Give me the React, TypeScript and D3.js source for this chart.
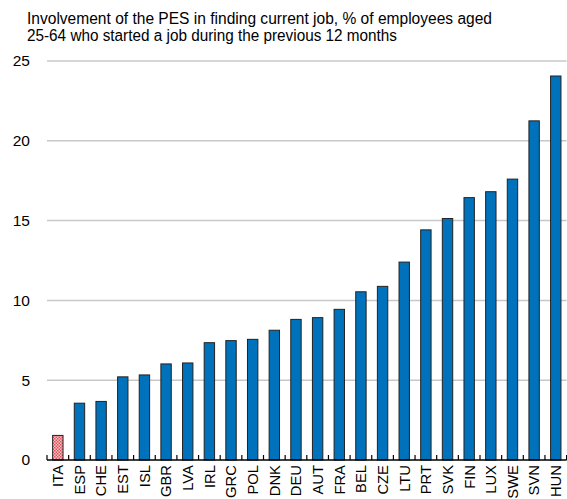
import React from "react";
import * as d3 from "d3";

const countries = ["ITA","ESP","CHE","EST","ISL","GBR","LVA","IRL","GRC","POL","DNK","DEU","AUT","FRA","BEL","CZE","LTU","PRT","SVK","FIN","LUX","SWE","SVN","HUN"];
const values = [1.54,3.56,3.67,5.21,5.33,6.02,6.08,7.35,7.48,7.56,8.13,8.81,8.92,9.44,10.54,10.88,12.40,14.42,15.13,16.44,16.81,17.6,21.25,24.06];
const highlighted = ["ITA"];
const yTicks = [0,5,10,15,20,25];
const titleLines = [
  "Involvement of the PES in finding current job, % of employees aged",
  "25-64 who started a job during the previous 12 months",
];
const titleWidths = [465, 370];

const W = 567, H = 499;
const FONT = "'Liberation Sans', Arial, sans-serif";

export default function App() {
  const x = d3.scaleBand<string>().domain(countries).range([47, 566.6]).paddingInner(0.52).paddingOuter(0.26);
  const y = d3.scaleLinear().domain([0, 25]).range([460, 61]);
  const step = x.step();
  const boundaries = countries.map(c => (x(c) as number) + x.bandwidth() / 2 - step / 2);
  boundaries.push(boundaries[boundaries.length - 1] + step);
  const [x0, x1] = x.range();

  return (
    <svg width={W} height={H} style={{ position: "absolute", left: 0, top: 0, background: "#fff" }} fontFamily={FONT}>
      <defs>
        <pattern id="hatch" width="3" height="3" patternUnits="userSpaceOnUse">
          <rect width="3" height="3" fill="#f4c4c6" />
          <rect x="0" y="0" width="1.5" height="1.5" fill="#e0505a" />
          <rect x="1.5" y="1.5" width="1.5" height="1.5" fill="#e0505a" />
        </pattern>
      </defs>
      {titleLines.map((t, i) => (
        <text key={i} x={27} y={24 + i * 17} fontSize={16} fill="#000"
          textLength={titleWidths[i]} lengthAdjust="spacingAndGlyphs">{t}</text>
      ))}
      {yTicks.filter(v => v > 0).map(v => (
        <line key={v} x1={x0} x2={x1} y1={y(v)} y2={y(v)} stroke="#c8c8c8" strokeWidth={1.5} />
      ))}
      {yTicks.map(v => (
        <text key={v} x={30} y={y(v)} dy="0.35em" textAnchor="end" fontSize={15.5} fill="#000">{v}</text>
      ))}
      {countries.map((c, i) => (
        <rect key={c} x={x(c)} y={y(values[i])} width={x.bandwidth()} height={y(0) - y(values[i])}
          fill={highlighted.includes(c) ? "url(#hatch)" : "#0072bc"} stroke="#222" strokeWidth={1} />
      ))}
      <line x1={x0} x2={x1} y1={y(0)} y2={y(0)} stroke="#000" strokeWidth={1.5} />
      {boundaries.map((b, i) => (
        <line key={i} x1={b} x2={b} y1={y(0)} y2={y(0) - 5} stroke="#000" strokeWidth={1.2} />
      ))}
      {countries.map(c => {
        const cx = (x(c) as number) + x.bandwidth() / 2;
        return (
          <text key={c} transform={`translate(${cx},465) rotate(-90)`} dy="0.36em" textAnchor="end" fontSize={14.8} fill="#000">{c}</text>
        );
      })}
    </svg>
  );
}
